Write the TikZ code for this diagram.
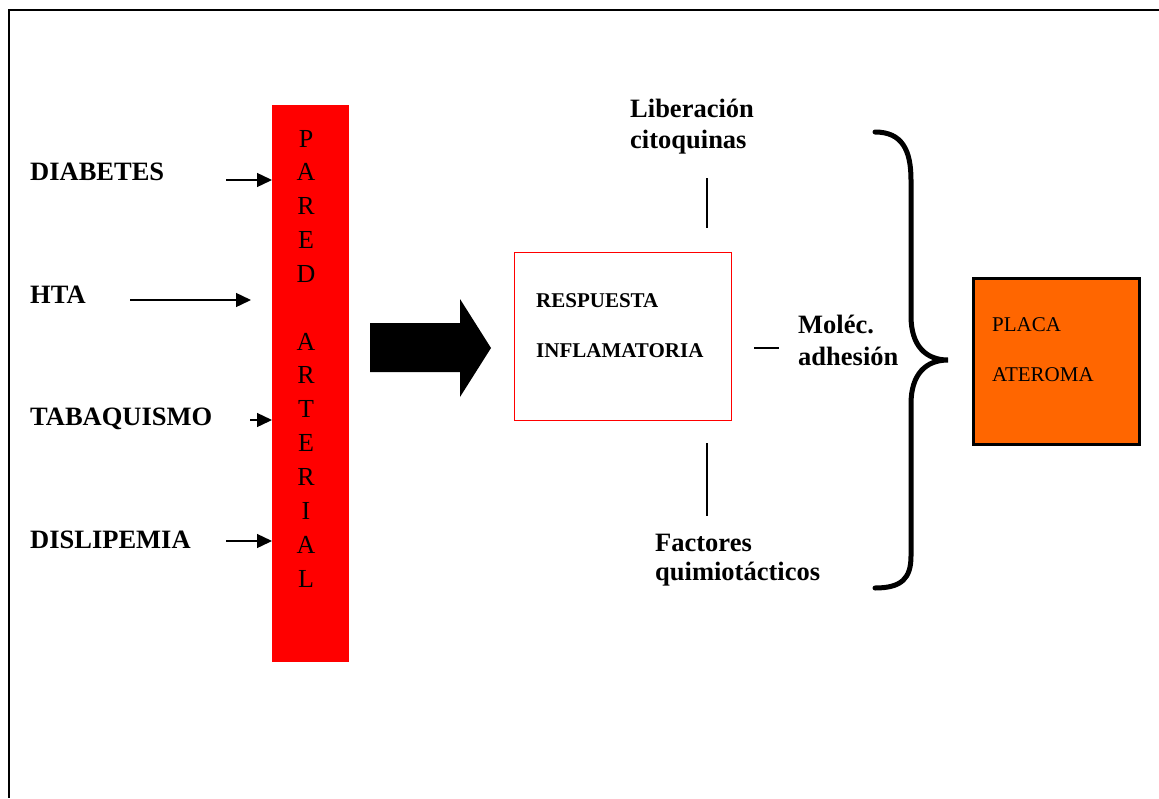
\documentclass[tikz,border=0pt]{standalone}
\usepackage{fontspec}
\setmainfont{Liberation Serif}
\usetikzlibrary{arrows.meta}
\definecolor{placaorange}{RGB}{255,102,0}
\begin{document}
\begin{tikzpicture}[x=1pt,y=-1pt,
  lbl/.style={anchor=base west,inner sep=0pt,font=\fontsize{26.5}{30}\selectfont\bfseries},
  boxlbl/.style={anchor=base west,inner sep=0pt,font=\fontsize{21}{25}\selectfont\bfseries},
  placalbl/.style={anchor=base west,inner sep=0pt,font=\fontsize{21}{25}\selectfont},
  wallletter/.style={anchor=base,inner sep=0pt,font=\fontsize{26}{30}\selectfont},
  feed/.style={line width=1.4pt,-{Triangle[length=15pt,width=14pt]}},
  tick/.style={line width=1.4pt}]
\useasboundingbox (0,0) rectangle (1159,798);
% frame
\draw[line width=2.6pt] (1159,10) -- (9,10) -- (9,798);
% arterial wall
\node[fill=red,minimum width=77pt,minimum height=557pt,inner sep=0pt,outer sep=0pt,anchor=north west] (wall) at (272,105) {};
\foreach \ch [count=\i from 0] in {P,A,R,E,D,{},A,R,T,E,R,I,A,L}
  \node[wallletter] (w\i) at (306,{147+\i*33.85}) {\ch};
% risk factors
\node[lbl] (diab) at (30,180) {DIABETES};
\node[lbl] (hta) at (30,303) {HTA};
\node[lbl] (taba) at (30,425) {TABAQUISMO};
\node[lbl] (disl) at (30,548) {DISLIPEMIA};
\coordinate (d0) at (226,180);
\coordinate (h0) at (130,300);
\coordinate (h1) at (251,300);
\coordinate (t0) at (250,420);
\coordinate (s0) at (226,541);
\draw[feed] (d0) -- (d0 -| wall.west);
\draw[feed] (h0) -- (h1);
\draw[feed] (t0) -- (t0 -| wall.west);
\draw[feed] (s0) -- (s0 -| wall.west);
% big arrow
\fill (370,323) -- (460,323) -- (460,299) -- (491,348) -- (460,397) -- (460,372) -- (370,372) -- cycle;
% response box
\node[draw=red,line width=1.3pt,minimum width=217pt,minimum height=168pt,inner sep=0pt,anchor=north west] (resp) at (514,252) {};
\node[boxlbl] (resp1) at (536,307) {RESPUESTA};
\node[boxlbl] (resp2) at (536,357) {INFLAMATORIA};
% mediators
\node[lbl] (lib1) at (630,117) {Liberación};
\node[lbl] (lib2) at (630,148) {citoquinas};
\node[lbl] (mol1) at (798,333) {Moléc.};
\node[lbl] (mol2) at (798,365) {adhesión};
\node[lbl] (fac1) at (655,551) {Factores};
\node[lbl] (fac2) at (655,580) {quimiotácticos};
\coordinate (u0) at (707,178);
\coordinate (u1) at (707,228);
\coordinate (b0) at (707,443);
\coordinate (b1) at (707,516);
\coordinate (m0) at (754,348);
\coordinate (m1) at (779,348);
\draw[tick] (u0) -- (u1);
\draw[tick] (b0) -- (b1);
\draw[tick] (m0) -- (m1);
% brace
\draw[line width=5pt,line cap=round] (875,132) .. controls (902,132) and (911,150) .. (911,180) -- (911,316)
  .. controls (911,346) and (926,360) .. (948,360)
  .. controls (926,360) and (911,374) .. (911,404) -- (911,556)
  .. controls (911,578) and (902,588) .. (875,588);
% plaque
\node[fill=placaorange,draw=black,line width=2.5pt,minimum width=166pt,minimum height=166pt,inner sep=0pt,anchor=north west] (placa) at (972,277) {};
\node[placalbl] (pl1) at (992,331) {PLACA};
\node[placalbl] (pl2) at (992,381) {ATEROMA};
\end{tikzpicture}
\end{document}
